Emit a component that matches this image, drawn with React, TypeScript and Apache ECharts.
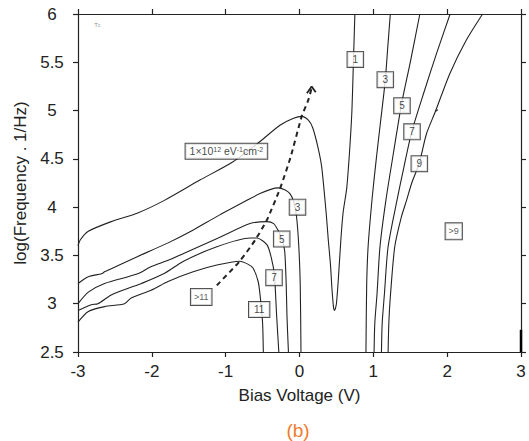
import React, { useEffect, useRef } from "react";
import * as echarts from "echarts";

// ---- data ----
const xTicks = [-3, -2, -1, 0, 1, 2, 3];
const yTicks = [2.5, 3, 3.5, 4, 4.5, 5, 5.5, 6];

const curve1 = [
  [-3, 3.6], [-2.97, 3.66], [-2.86, 3.75], [-2.55, 3.85], [-2.19, 3.94], [-1.83, 4.07],
  [-1.35, 4.28], [-0.9, 4.47], [-0.535, 4.68], [-0.26, 4.85], [-0.08, 4.92], [0.03, 4.94],
  [0.12, 4.9], [0.18, 4.82], [0.25, 4.62], [0.3, 4.42], [0.36, 3.95], [0.39, 3.66],
  [0.42, 3.4], [0.44, 3.15], [0.46, 2.97], [0.475, 2.93], [0.5, 3.0], [0.53, 3.3],
  [0.56, 3.66], [0.59, 3.94], [0.64, 4.2], [0.68, 4.6], [0.71, 5.0], [0.73, 5.5], [0.75, 6.0],
];
const curve3Left = [
  [-3, 3.21], [-2.86, 3.28], [-2.68, 3.31], [-2.64, 3.33], [-2.19, 3.49], [-1.78, 3.63],
  [-1.47, 3.75], [-1.08, 3.92], [-0.535, 4.14], [-0.29, 4.2], [-0.2, 4.18], [-0.13, 4.14],
  [-0.08, 4.06], [-0.04, 3.9], [-0.01, 3.6], [0.01, 3.2], [0.02, 2.5],
];
const curve3Right = [
  [0.9, 2.5], [0.91, 3.2], [0.93, 3.6], [0.985, 4.1], [1.04, 4.5], [1.1, 4.9],
  [1.16, 5.3], [1.195, 5.65], [1.23, 6.0],
];
const curve5Left = [
  [-3, 3.0], [-2.86, 3.12], [-2.64, 3.21], [-2.19, 3.31], [-2.02, 3.38], [-1.78, 3.45],
  [-1.57, 3.52], [-1.1, 3.68], [-0.67, 3.83], [-0.44, 3.85], [-0.35, 3.83], [-0.29, 3.76],
  [-0.23, 3.65], [-0.2, 3.54], [-0.18, 3.2], [-0.17, 2.88], [-0.15, 2.5],
];
const curve5Right = [
  [1.01, 2.5], [1.02, 2.8], [1.05, 3.1], [1.09, 3.59], [1.17, 4.07], [1.27, 4.55],
  [1.38, 5.06], [1.5, 5.5], [1.63, 6.0],
];
const curve7Left = [
  [-3, 2.93], [-2.82, 2.99], [-2.73, 3.0], [-2.55, 3.09], [-2.32, 3.16], [-2.14, 3.21],
  [-1.84, 3.31], [-1.57, 3.44], [-1.12, 3.59], [-0.67, 3.68], [-0.58, 3.68], [-0.44, 3.61],
  [-0.38, 3.47], [-0.34, 3.3], [-0.31, 2.88], [-0.28, 2.5],
];
const curve7Right = [
  [1.11, 2.5], [1.12, 2.8], [1.15, 3.1], [1.2, 3.59], [1.32, 4.07], [1.41, 4.4],
  [1.52, 4.78], [1.69, 5.2], [1.86, 5.6], [2.04, 6.0],
];
const curve9Right = [
  [1.2, 2.5], [1.21, 2.8], [1.23, 3.07], [1.29, 3.59], [1.38, 3.9], [1.45, 4.07],
  [1.52, 4.25], [1.62, 4.45], [1.72, 4.76], [1.84, 4.99], [2.04, 5.39], [2.26, 5.73], [2.48, 6.0],
];
const curve9Spur = [[1.84, 4.99], [1.875, 5.01]];
const curve11Left = [
  [-3, 2.81], [-2.86, 2.92], [-2.64, 2.97], [-2.37, 3.0], [-2.28, 3.06], [-2.01, 3.14],
  [-1.78, 3.23], [-1.44, 3.33], [-1.12, 3.4], [-0.81, 3.44], [-0.7, 3.41], [-0.63, 3.37],
  [-0.56, 3.23], [-0.53, 3.06], [-0.5, 2.8], [-0.49, 2.5],
];
const arrowPath = [
  [-1.12, 3.19], [-0.81, 3.44], [-0.6, 3.66], [-0.44, 3.87], [-0.26, 4.2], [-0.12, 4.52],
  [0.03, 4.94], [0.12, 5.11], [0.16, 5.22],
];
const arrowHead = [[0.1, 5.18], [0.165, 5.25], [0.22, 5.19]];
const edgeMark = [[3, 2.5], [3, 2.73]];

const boxLabels = [
  { name: "1", x: 0.756, y: 5.53 },
  { name: "3", x: 1.162, y: 5.32 },
  { name: "5", x: 1.388, y: 5.05 },
  { name: "7", x: 1.524, y: 4.78 },
  { name: "9", x: 1.623, y: 4.45 },
  { name: "3", x: -0.027, y: 4.0 },
  { name: "5", x: -0.241, y: 3.67 },
  { name: "7", x: -0.345, y: 3.27 },
  { name: "11", x: -0.546, y: 2.94 },
];
const smallBoxLabels = [
  { name: ">9", x: 2.089, y: 3.75 },
  { name: ">11", x: -1.331, y: 3.07 },
];
const densityLabel = { x: -0.99, y: 4.58 };
const tcLabel = { x: -2.74, y: 5.89 };

const FONT = "'Liberation Sans', Arial, Helvetica, sans-serif";
const INK = "#222";

export default function App() {
  const ref = useRef<HTMLDivElement>(null);
  useEffect(() => {
    if (!ref.current) return;
    const chart = echarts.init(ref.current, undefined, { renderer: "svg" });
    const axisLine = { show: true, onZero: false, lineStyle: { color: INK, width: 1.2 } };
    const axisTick = { show: true, inside: false, length: 5, lineStyle: { color: INK, width: 1.2 } };
    const curveStyle = { color: INK, width: 1.1 };
    const mkLine = (data: number[][], extra: any = {}) => ({
      type: "line",
      data,
      showSymbol: false,
      symbol: "none",
      smooth: 0.25,
      lineStyle: curveStyle,
      z: 3,
      silent: true,
      ...extra,
    });
    const option: any = {
      animation: false,
      textStyle: { fontFamily: FONT },
      grid: { left: 78, right: 8, top: 14, bottom: 89, containLabel: false },
      xAxis: [
        {
          type: "value", position: "bottom", min: xTicks[0], max: xTicks[xTicks.length - 1], interval: 1,
          axisLine, axisTick, splitLine: { show: false },
          axisLabel: { margin: 11, fontSize: 17, color: INK, fontFamily: FONT },
          name: "Bias Voltage (V)", nameLocation: "middle", nameGap: 35,
          nameTextStyle: { fontSize: 17, color: INK, fontFamily: FONT },
        },
        {
          type: "value", position: "top", min: xTicks[0], max: xTicks[xTicks.length - 1], interval: 1,
          axisLine, axisTick, splitLine: { show: false }, axisLabel: { show: false },
        },
      ],
      yAxis: [
        {
          type: "value", position: "left", min: yTicks[0], max: yTicks[yTicks.length - 1], interval: 0.5,
          axisLine, axisTick, splitLine: { show: false },
          axisLabel: { margin: 26, align: "center", fontSize: 17, color: INK, fontFamily: FONT },
          name: "log(Frequency . 1/Hz)", nameLocation: "middle", nameGap: 45,
          nameTextStyle: { fontSize: 17, color: INK, fontFamily: FONT },
        },
        {
          type: "value", position: "right", min: yTicks[0], max: yTicks[yTicks.length - 1], interval: 0.5,
          axisLine, axisTick, splitLine: { show: false }, axisLabel: { show: false },
        },
      ],
      series: [
        mkLine(curve1),
        mkLine(curve3Left),
        mkLine(curve3Right),
        mkLine(curve5Left),
        mkLine(curve5Right),
        mkLine(curve7Left),
        mkLine(curve7Right),
        mkLine(curve9Right),
        mkLine(curve9Spur, { smooth: false }),
        mkLine(curve11Left),
        mkLine(arrowPath, { smooth: 0.2, lineStyle: { color: INK, width: 2, type: [5, 4] } }),
        mkLine(arrowHead, { smooth: false, lineStyle: { color: INK, width: 1.8 } }),
        mkLine(edgeMark, { smooth: false, clip: false, lineStyle: { color: "#000", width: 2.5 } }),
        {
          type: "scatter",
          symbolSize: 1,
          itemStyle: { color: "transparent" },
          z: 6,
          silent: true,
          data: boxLabels.map((b) => ({ name: b.name, value: [b.x, b.y] })),
          label: {
            show: true, position: "inside", formatter: "{b}",
            fontSize: 10, color: "#111", fontFamily: FONT,
            backgroundColor: "#fff", borderColor: "#222", borderWidth: 1, padding: [3, 5, 2, 5],
          },
        },
        {
          type: "scatter",
          symbolSize: 1,
          itemStyle: { color: "transparent" },
          z: 6,
          silent: true,
          data: smallBoxLabels.map((b) => ({ name: b.name, value: [b.x, b.y] })),
          label: {
            show: true, position: "inside", formatter: "{b}",
            fontSize: 9, color: "#333", fontFamily: FONT,
            backgroundColor: "#fff", borderColor: "#222", borderWidth: 1, padding: [4, 3, 3, 3],
          },
        },
        {
          type: "scatter",
          symbolSize: 1,
          itemStyle: { color: "transparent" },
          z: 6,
          silent: true,
          data: [{ name: "density", value: [densityLabel.x, densityLabel.y] }],
          label: {
            show: true, position: "inside",
            formatter: "1\u00d710{s|12} eV{s|-1}cm{s|-2}",
            fontSize: 10.5, color: "#111", fontFamily: FONT,
            backgroundColor: "#fff", borderColor: "#222", borderWidth: 1, padding: [2, 4, 2, 4],
            rich: { s: { fontSize: 7, verticalAlign: "top", color: "#111", fontFamily: FONT } },
          },
        },
        {
          type: "scatter",
          symbolSize: 1,
          itemStyle: { color: "transparent" },
          z: 6,
          silent: true,
          data: [{ name: "Tc", value: [tcLabel.x, tcLabel.y] }],
          label: {
            show: true, position: "inside", formatter: "T{s|c}",
            fontSize: 6, color: "#666", fontFamily: FONT,
            rich: { s: { fontSize: 4.5, verticalAlign: "bottom", color: "#666" } },
          },
        },
      ],
      graphic: [
        {
          type: "text", x: 298, y: 430,
          style: { text: "(b)", fontSize: 19, fill: "#F07A2E", fontFamily: FONT, textAlign: "center", textVerticalAlign: "middle" },
        },
      ],
    };
    chart.setOption(option);
    return () => chart.dispose();
  }, []);
  return <div ref={ref} style={{ position: "fixed", left: 0, top: 0, width: 529, height: 441, background: "#fff" }} />;
}
